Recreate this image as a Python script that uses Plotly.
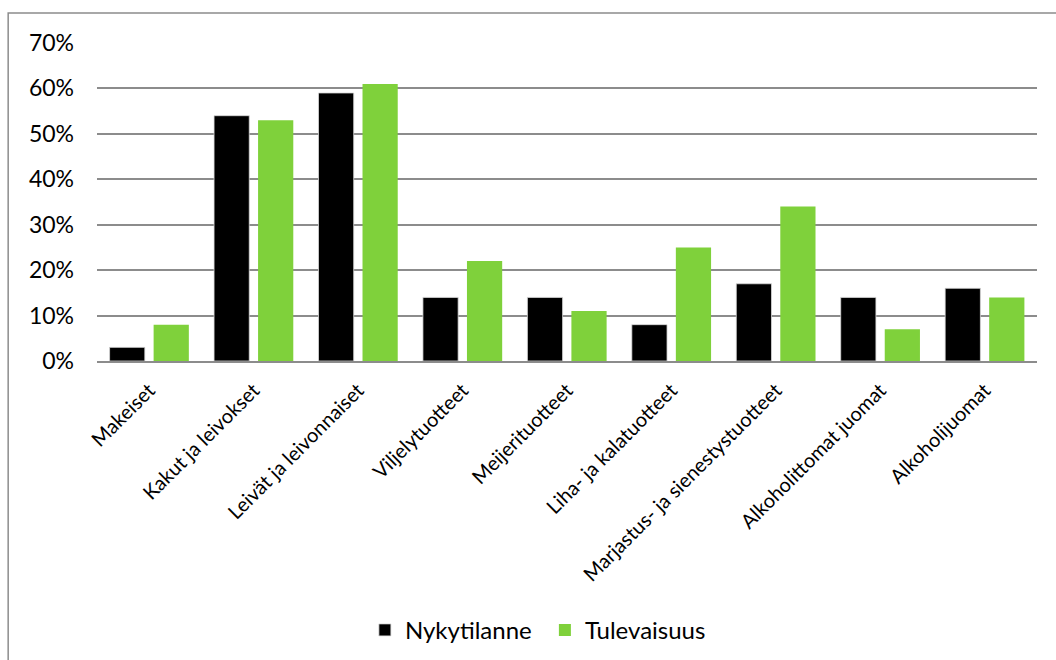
import plotly.graph_objects as go

categories = [
    "Makeiset",
    "Kakut ja leivokset",
    "Leivät ja leivonnaiset",
    "Viljelytuotteet",
    "Meijerituotteet",
    "Liha- ja kalatuotteet",
    "Marjastus- ja sienestystuotteet",
    "Alkoholittomat juomat",
    "Alkoholijuomat",
]
nykytilanne = [0.03, 0.54, 0.59, 0.14, 0.14, 0.08, 0.17, 0.14, 0.16]
tulevaisuus = [0.08, 0.53, 0.61, 0.22, 0.11, 0.25, 0.34, 0.07, 0.14]
y_ticks = [0, 0.1, 0.2, 0.3, 0.4, 0.5, 0.6, 0.7]

FONT = "Lato, 'Open Sans', sans-serif"

fig = go.Figure()
fig.add_trace(go.Bar(
    name="Nykytilanne", x=categories, y=nykytilanne,
    marker=dict(color="#000000", line=dict(color="#d9d9d9", width=0.8)),
))
fig.add_trace(go.Bar(
    name="Tulevaisuus", x=categories, y=tulevaisuus,
    marker=dict(color="#7fd13b", line=dict(width=0)),
))

# outer chart frame (left and top edges visible)
fig.add_shape(type="rect", xref="paper", yref="paper",
              x0=-0.0945, x1=2, y0=-2, y1=1.0945,
              line=dict(color="#8c8c8c", width=1.5), fillcolor="rgba(0,0,0,0)",
              layer="below")

fig.update_layout(
    width=1056, height=660,
    margin=dict(l=97, r=19, t=43, b=299),
    plot_bgcolor="white", paper_bgcolor="white",
    barmode="group", bargap=0.157, bargroupgap=0.2,
    font=dict(family=FONT, color="#000000"),
    showlegend=True,
    legend=dict(orientation="h", xref="container", yref="container",
                x=0.516, y=0.045, xanchor="center", yanchor="middle",
                font=dict(size=24, family=FONT), itemwidth=30,
                entrywidth=135, traceorder="normal"),
    yaxis=dict(range=[0, 0.7], tickvals=y_ticks, tickformat=".0%",
               showgrid=True, gridcolor="#8c8c8c", gridwidth=1.5,
               zeroline=False, showline=False, ticks="",
               tickfont=dict(size=23, family=FONT), ticklabelstandoff=22),
    xaxis=dict(showline=True, linecolor="#8c8c8c", linewidth=1.5,
               ticks="", tickangle=-45, showgrid=False,
               tickfont=dict(size=20, family=FONT), ticklabelstandoff=8),
)

fig.write_html("out.html")
